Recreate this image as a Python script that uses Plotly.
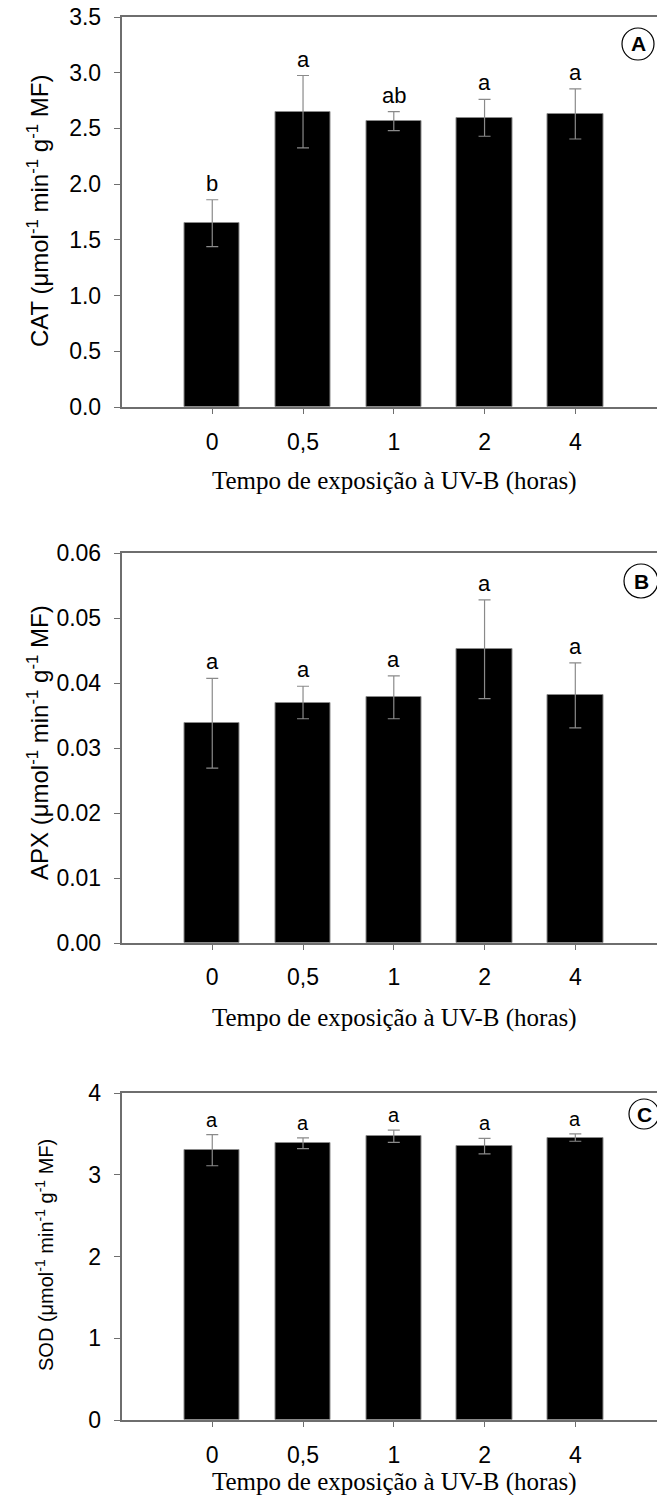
import plotly.graph_objects as go

W, H = 657, 1495

categories = ["0", "0,5", "1", "2", "4"]
xpos = [0, 1, 2, 3, 4]

cat_mean = [1.65, 2.65, 2.565, 2.595, 2.63]
cat_err = [0.21, 0.325, 0.085, 0.165, 0.225]
cat_letters = ["b", "a", "ab", "a", "a"]

apx_mean = [0.0338, 0.0370, 0.0378, 0.0452, 0.0381]
apx_err = [0.0069, 0.0025, 0.0033, 0.0076, 0.0050]
apx_letters = ["a", "a", "a", "a", "a"]

sod_mean = [3.30, 3.385, 3.47, 3.35, 3.455]
sod_err = [0.19, 0.065, 0.075, 0.095, 0.045]
sod_letters = ["a", "a", "a", "a", "a"]

xtitle = "Tempo de exposição à UV-B (horas)"
ytitles = [
    "CAT (μmol<sup>-1</sup> min<sup>-1</sup> g<sup>-1</sup> MF)",
    "APX (μmol<sup>-1</sup> min<sup>-1</sup> g<sup>-1</sup> MF)",
    "SOD (μmol<sup>-1</sup> min<sup>-1</sup> g<sup>-1</sup> MF)",
]
panel_tags = ["A", "B", "C"]

# pixel layout (top, bottom) of each plot area
panels_px = [(17, 407), (553, 943), (1093, 1420)]
left_px = 121.5
yranges = [[0, 3.5], [0, 0.06], [0, 4]]
ydticks = [0.5, 0.01, 1]
ytickformats = [".1f", ".2f", "d"]
standoffs = [9, 8, 9]
xtitle_py = [481, 1018, 1482]
ytitle_pos = [(38, 211), (38, 743), (44, 1255)]
ytitle_sizes = [24, 24, 20]
circles = [(638, 44, 16), (641, 581, 17), (644, 1114, 15)]
letter_sizes = [22, 22, 20]

def px(x):
    return x / W

def py(y):
    return 1 - y / H

AX = "#6e6e6e"
FONT_SANS = "Liberation Sans, Arial, sans-serif"
FONT_SERIF = "Liberation Serif, Times New Roman, serif"

fig = go.Figure()
series = [(cat_mean, cat_err, cat_letters), (apx_mean, apx_err, apx_letters), (sod_mean, sod_err, sod_letters)]
annotations = []
shapes = []
layout = {}
for i, (m, e, lets) in enumerate(series):
    k = "" if i == 0 else str(i + 1)
    fig.add_trace(go.Bar(
        x=xpos, y=m, width=0.61,
        marker=dict(color="black", line=dict(color="#8a8a8a", width=1)),
        error_y=dict(type="data", array=e, visible=True, color="#8a8a8a", thickness=1.2, width=6),
        xaxis="x" + k, yaxis="y" + k, showlegend=False,
    ))
    top, bot = panels_px[i]
    layout["xaxis" + k] = dict(
        domain=[px(left_px), 1], range=[-1.0, 4.9], anchor="y" + k,
        tickmode="array", tickvals=xpos, ticktext=categories,
        showline=True, linecolor=AX, linewidth=1.5, mirror=True,
        ticks="outside", ticklen=5, tickcolor=AX, tickwidth=1,
        showgrid=False, zeroline=False, ticklabelstandoff=standoffs[i],
        tickfont=dict(family=FONT_SANS, size=23, color="black"),
    )
    layout["yaxis" + k] = dict(
        domain=[py(bot), py(top)], range=yranges[i], anchor="x" + k,
        dtick=ydticks[i], tick0=0, tickformat=ytickformats[i],
        showline=True, linecolor=AX, linewidth=1.5,
        ticks="outside", ticklen=6, tickcolor=AX, tickwidth=1,
        showgrid=False, zeroline=False, ticklabelstandoff=8,
        tickfont=dict(family=FONT_SANS, size=23, color="black"),
    )
    for j in range(len(xpos)):
        annotations.append(dict(
            x=xpos[j], y=m[j] + e[j], xref="x" + k, yref="y" + k,
            text=lets[j], showarrow=False, yanchor="bottom", yshift=2,
            font=dict(family=FONT_SANS, size=letter_sizes[i], color="black"),
        ))
    annotations.append(dict(
        x=px(394), y=py(xtitle_py[i]), xref="paper", yref="paper",
        text=xtitle, showarrow=False, xanchor="center", yanchor="middle",
        font=dict(family=FONT_SERIF, size=25, color="black"),
    ))
    tx, ty = ytitle_pos[i]
    annotations.append(dict(
        x=px(tx), y=py(ty), xref="paper", yref="paper",
        text=ytitles[i], showarrow=False, textangle=-90,
        xanchor="center", yanchor="middle",
        font=dict(family=FONT_SANS, size=ytitle_sizes[i], color="black"),
    ))
    cx, cy, r = circles[i]
    shapes.append(dict(
        type="circle", xref="paper", yref="paper",
        x0=px(cx - r), x1=px(cx + r), y0=py(cy + r), y1=py(cy - r),
        line=dict(color="black", width=1.2),
    ))
    annotations.append(dict(
        x=px(cx), y=py(cy), xref="paper", yref="paper",
        text="<b>" + panel_tags[i] + "</b>", showarrow=False,
        xanchor="center", yanchor="middle",
        font=dict(family=FONT_SANS, size=21, color="black"),
    ))

fig.update_layout(
    width=W, height=H, margin=dict(l=0, r=0, t=0, b=0, autoexpand=False),
    paper_bgcolor="white", plot_bgcolor="white",
    annotations=annotations, shapes=shapes, bargap=0,
    **layout,
)
fig.write_html("out.html")
